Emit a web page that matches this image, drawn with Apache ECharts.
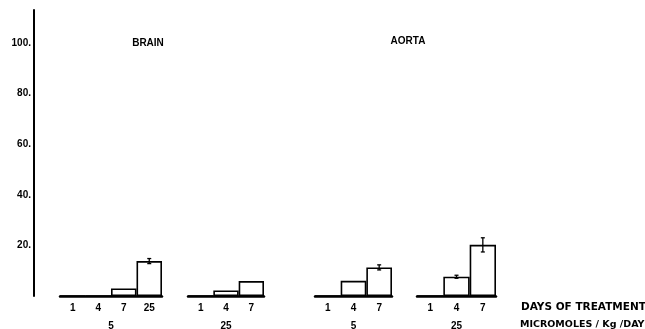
<!DOCTYPE html>
<html>
<head>
<meta charset="utf-8">
<script src="https://cdn.jsdelivr.net/npm/echarts@6/dist/echarts.min.js"></script>
<style>
    html, body { margin: 0; padding: 0; background: #fff; }
    #chart { width: 645px; height: 329px; }
</style>
</head>
<body>
<div id="chart"></div>
<script>
// days of treatment per group
var brain5Days = ['1', '4', '7', '25'];
var brain5Values = [0, 0, 3, 13.8];
var brain5Errors = [0, 0, 0, 1];

var brain25Days = ['1', '4', '7'];
var brain25Values = [0, 2.2, 5.9];
var brain25Errors = [0, 0, 0];

var aorta5Days = ['1', '4', '7'];
var aorta5Values = [0, 6, 11.3];
var aorta5Errors = [0, 0, 1];

var aorta25Days = ['1', '4', '7'];
var aorta25Values = [0, 7.6, 20.2];
var aorta25Errors = [0, 0.6, 2.8];

// dose under each group (micromoles / kg / day)
var doseLabels = ['5', '25', '5', '25'];
var yTickLabels = [20, 40, 60, 80, 100];
var panelTitles = ['BRAIN', 'AORTA'];

var FONT = 'Liberation Sans';
var yMax = 113;

var groups = [
    { days: brain5Days, values: brain5Values, errors: brain5Errors, left: 60, width: 102 },
    { days: brain25Days, values: brain25Values, errors: brain25Errors, left: 188, width: 76 },
    { days: aorta5Days, values: aorta5Values, errors: aorta5Errors, left: 315, width: 77 },
    { days: aorta25Days, values: aorta25Values, errors: aorta25Errors, left: 417, width: 79 }
];

function errorBarRender(params, api) {
    var idx = api.value(0);
    var v = api.value(1);
    var e = api.value(2);
    if (!e) {
        return;
    }
    var top = api.coord([idx, v + e]);
    var bottom = api.coord([idx, v - e]);
    var cap = 2;
    var style = { stroke: '#000', lineWidth: 1.3 };
    return {
        type: 'group',
        children: [
            { type: 'line', shape: { x1: top[0], y1: top[1], x2: bottom[0], y2: bottom[1] }, style: style },
            { type: 'line', shape: { x1: top[0] - cap, y1: top[1], x2: top[0] + cap, y2: top[1] }, style: style },
            { type: 'line', shape: { x1: bottom[0] - cap, y1: bottom[1], x2: bottom[0] + cap, y2: bottom[1] }, style: style }
        ]
    };
}

var grid = [];
var xAxis = [];
var yAxis = [];
var series = [];

groups.forEach(function(g, i) {
    grid.push({
        left: g.left, width: g.width, top: 10, bottom: 33,
        containLabel: false,
        outerBoundsMode: 'none'
    });
    xAxis.push({
        type: 'category',
        gridIndex: i,
        data: g.days,
        name: doseLabels[i],
        nameLocation: 'middle',
        nameGap: 25,
        nameTextStyle: { color: '#000', fontFamily: FONT, fontWeight: 'bold', fontSize: 10 },
        axisLine: { show: true, lineStyle: { color: '#000', width: 2.5 } },
        axisTick: { show: false },
        axisLabel: { color: '#000', fontFamily: FONT, fontWeight: 'bold', fontSize: 10, margin: 7 }
    });
    yAxis.push({
        type: 'value',
        gridIndex: i,
        min: 0,
        max: yMax,
        interval: 20,
        show: i === 0,
        offset: i === 0 ? 26 : 0,
        splitLine: { show: false },
        axisLine: { show: true, lineStyle: { color: '#000', width: 2 } },
        axisTick: { show: false },
        axisLabel: {
            color: '#000',
            fontFamily: FONT,
            fontWeight: 'bold',
            fontSize: 10,
            margin: 3,
            formatter: function(val) {
                return yTickLabels.indexOf(val) >= 0 ? val + '.' : '';
            }
        }
    });
    series.push({
        type: 'bar',
        xAxisIndex: i,
        yAxisIndex: i,
        data: g.values,
        barWidth: '100%',
        barCategoryGap: '0%',
        itemStyle: { color: '#fff', borderColor: '#000', borderWidth: 1.6 },
        silent: true
    });
    series.push({
        type: 'custom',
        xAxisIndex: i,
        yAxisIndex: i,
        renderItem: errorBarRender,
        data: g.values.map(function(v, k) { return [k, v, g.errors[k]]; }),
        z: 5,
        silent: true
    });
});

var chart = echarts.init(document.getElementById('chart'));
chart.setOption({
    backgroundColor: '#fff',
    animation: false,
    title: [
        { text: panelTitles[0], left: 143, top: 33, textAlign: 'center',
          textStyle: { color: '#000', fontFamily: FONT, fontWeight: 'bold', fontSize: 10 } },
        { text: panelTitles[1], left: 403, top: 31, textAlign: 'center',
          textStyle: { color: '#000', fontFamily: FONT, fontWeight: 'bold', fontSize: 10 } }
    ],
    graphic: [
        { type: 'text', left: 521, top: 302,
          style: { text: 'DAYS OF TREATMENT', fill: '#000', font: 'bold 10.5px "DejaVu Sans"' } },
        { type: 'text', left: 520, top: 320,
          style: { text: 'MICROMOLES / Kg /DAY', fill: '#000', font: 'bold 9.5px "DejaVu Sans"' } }
    ],
    grid: grid,
    xAxis: xAxis,
    yAxis: yAxis,
    series: series
});
</script>
</body>
</html>
